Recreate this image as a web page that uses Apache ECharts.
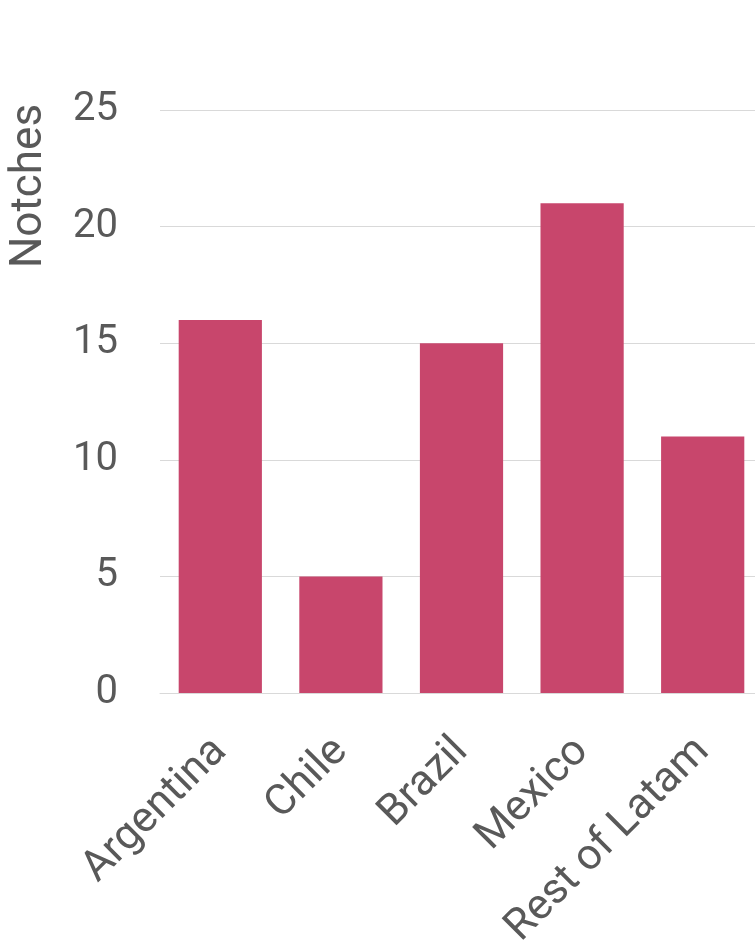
<!DOCTYPE html>
<html>
<head>
<meta charset="utf-8">
<script src="https://cdn.jsdelivr.net/npm/echarts@6/dist/echarts.min.js"></script>
<style>
  html, body { margin: 0; padding: 0; background: #fff; }
  #chart { width: 755px; height: 943px; }
</style>
</head>
<body>
<div id="chart"></div>
<script>
const categories = ['Argentina', 'Chile', 'Brazil', 'Mexico', 'Rest of Latam']
const notches = [16, 5, 15, 21, 11]
const yTicks = { min: 0, max: 25, interval: 5 }

const FONT = 'Roboto'
const TEXT = '#595959'
const GRID = '#d9d9d9'
const BAR = '#c8466c'

const chart = echarts.init(document.getElementById('chart'))

chart.setOption({
  animation: false,
  backgroundColor: '#fff',
  grid: {
    left: 160,
    right: -8,
    top: 110,
    bottom: 250,
    outerBoundsMode: 'none'
  },
  xAxis: {
    type: 'category',
    data: categories,
    axisLine: { lineStyle: { color: GRID, width: 1 } },
    axisTick: { show: false },
    axisLabel: {
      rotate: 45,
      margin: 52,
      interval: 0,
      color: TEXT,
      fontFamily: FONT,
      fontSize: 43
    }
  },
  yAxis: {
    type: 'value',
    min: yTicks.min,
    max: yTicks.max,
    interval: yTicks.interval,
    axisLine: { show: false },
    axisTick: { show: false },
    splitLine: { lineStyle: { color: GRID, width: 1 } },
    axisLabel: {
      margin: 42,
      color: TEXT,
      fontFamily: FONT,
      fontSize: 40
    }
  },
  graphic: [{
    type: 'text',
    x: 30,
    y: 186,
    rotation: Math.PI / 2,
    style: {
      text: 'Notches',
      fill: TEXT,
      font: '44px ' + FONT,
      textAlign: 'center',
      textVerticalAlign: 'middle'
    }
  }],
  series: [{
    type: 'bar',
    data: notches,
    barCategoryGap: '31%',
    itemStyle: { color: BAR }
  }]
})

window.addEventListener('resize', () => chart.resize())
</script>
</body>
</html>
